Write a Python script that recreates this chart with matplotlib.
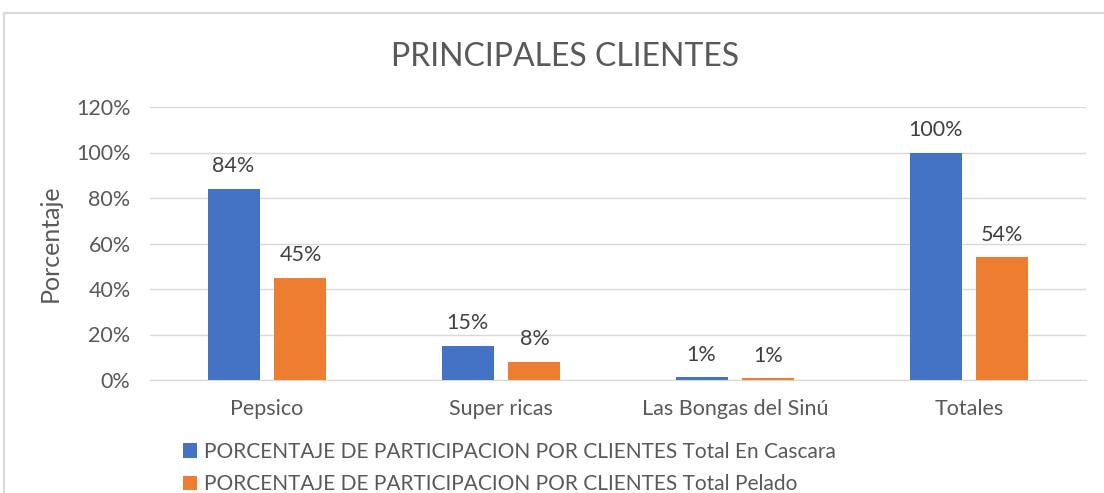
import numpy as np
import matplotlib.pyplot as plt
from matplotlib.patches import Rectangle

plt.rcParams['font.family'] = ['Lato', 'DejaVu Sans']

clientes = ["Pepsico", "Super ricas", "Las Bongas del Sinú", "Totales"]
en_cascara = [84, 15, 1.2, 100]
pelado = [45, 8, 0.7, 54]
etiq_cascara = ["84%", "15%", "1%", "100%"]
etiq_pelado = ["45%", "8%", "1%", "54%"]
serie_cascara = "PORCENTAJE DE PARTICIPACION POR CLIENTES Total En Cascara"
serie_pelado = "PORCENTAJE DE PARTICIPACION POR CLIENTES Total Pelado"

azul = "#4472C4"
naranja = "#ED7D31"
gris_texto = "#595959"

fig = plt.figure(figsize=(11.04, 4.93), dpi=100)
ax = fig.add_axes([150 / 1104, 1 - 380 / 493, 936 / 1104, 273 / 493])

x = np.arange(len(clientes))
w = 0.222
off = 0.143
b1 = ax.bar(x - off, en_cascara, w, color=azul, label=serie_cascara, zorder=3)
b2 = ax.bar(x + off, pelado, w, color=naranja, label=serie_pelado, zorder=3)

for bars, labels in ((b1, etiq_cascara), (b2, etiq_pelado)):
    for r, t in zip(bars, labels):
        ax.text(r.get_x() + r.get_width() / 2, r.get_height() + 5.5, t,
                ha="center", va="bottom", fontsize=15.5, color="#404040")

ax.set_xlim(-0.5, 3.5)
ax.set_ylim(0, 120)
ax.set_yticks(range(0, 121, 20))
ax.set_yticklabels([f"{v}%" for v in range(0, 121, 20)])
ax.set_xticks(x)
ax.set_xticklabels(clientes)
ax.tick_params(length=0, labelsize=15.5, labelcolor=gris_texto)
ax.tick_params(axis="x", pad=14)
ax.tick_params(axis="y", pad=14)
ax.grid(axis="y", color="#d9d9d9", linewidth=1, zorder=0)
for s in ("top", "right", "left"):
    ax.spines[s].set_visible(False)
ax.spines["bottom"].set_color("#d9d9d9")

ax.set_ylabel("Porcentaje", fontsize=18, color=gris_texto, labelpad=10)
fig.text(565 / 1104, 1 - 57 / 493, "PRINCIPALES CLIENTES", ha="center",
         va="center", fontsize=23, color=gris_texto)

fig.legend(handles=[b1, b2], loc="upper left",
           bbox_to_anchor=(164 / 1104, 1 - 423 / 493), frameon=False,
           fontsize=15, labelcolor=gris_texto, handlelength=0.7,
           handleheight=0.7, handletextpad=0.3, labelspacing=0.6)

fig.patches.append(Rectangle((4 / 1104, -0.1), 1.1, 1 - 13 / 493 + 0.1,
                             transform=fig.transFigure, fill=False,
                             edgecolor="#d9d9d9", linewidth=1.5))

fig.savefig("out.png", dpi=100)
